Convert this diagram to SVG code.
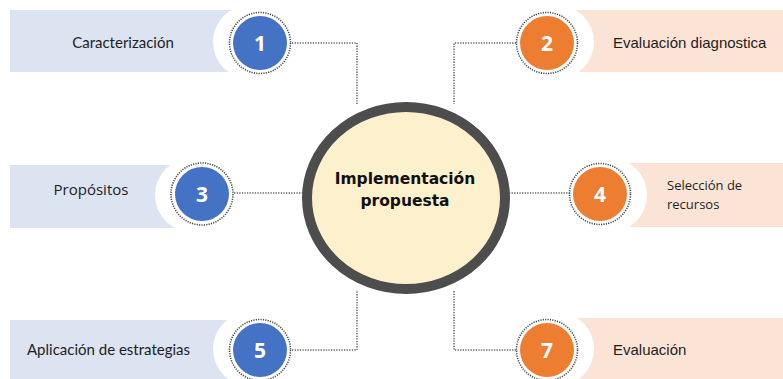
<svg xmlns="http://www.w3.org/2000/svg" width="783" height="379" viewBox="0 0 783 379">
<style>
.barL{fill:#DCE3F1}
.barR{fill:#FBE4D6}
.halo{fill:#FFFFFF}
.ring{fill:none;stroke:#4a4a4a;stroke-width:1.6;stroke-dasharray:1.2 1.2}
.blue{fill:#4472C4}
.orange{fill:#ED7D31}
.num{font-family:"Open Sans","Liberation Sans",sans-serif;font-weight:bold;font-size:21px;fill:#FFFFFF;text-anchor:middle}
.lbl{font-family:Lato,"Liberation Sans",sans-serif;font-size:15px;fill:#1e1e1e}
.lblR{font-family:"Liberation Sans",Arial,sans-serif;font-size:15px;fill:#1e1e1e}
.lblG{font-family:"Open Sans","Liberation Sans",sans-serif;font-size:13px;fill:#1e1e1e}
.conn{fill:none;stroke:#666666;stroke-width:1.5;stroke-dasharray:1.3 1.3}
.center{font-family:"DejaVu Sans","Liberation Sans",sans-serif;font-weight:bold;font-size:15.5px;fill:#111111;text-anchor:middle}
</style>
<rect width="783" height="379" fill="#FFFFFF"/>
<g id="connectors">
<path class="conn" d="M292 43 H357 V104"/>
<path class="conn" d="M516 43 H454 V104"/>
<path class="conn" d="M234 193 H303"/>
<path class="conn" d="M509 193 H570"/>
<path class="conn" d="M292 350 H357 V290"/>
<path class="conn" d="M516 350 H454 V290"/>
</g>
<g id="center">
<ellipse cx="406" cy="198" rx="99" ry="91" fill="#FDF0CD" stroke="#4d4d4d" stroke-width="10"/>
<text class="center" x="405" y="184">Implementación</text>
<text class="center" x="405" y="206">propuesta</text>
</g>
<g id="node1">
<rect class="barL" x="10" y="10" width="240" height="62"/>
<circle class="halo" cx="250" cy="42" r="37"/>
<circle class="blue" cx="260" cy="43" r="27"/>
<circle class="ring" cx="260" cy="43" r="30.5"/>
<text class="num" x="260" y="51">1</text>
<text class="lbl" x="123" y="48" text-anchor="middle">Caracterización</text>
</g>
<g id="node2">
<rect class="barR" x="550" y="10" width="233" height="62"/>
<circle class="halo" cx="557" cy="42" r="37"/>
<circle class="orange" cx="547" cy="43" r="27"/>
<circle class="ring" cx="547" cy="43" r="30.5"/>
<text class="num" x="547" y="51">2</text>
<text class="lblR" x="613" y="48">Evaluación diagnostica</text>
</g>
<g id="node3">
<rect class="barL" x="10" y="165" width="180" height="63"/>
<circle class="halo" cx="192" cy="195" r="37"/>
<circle class="blue" cx="202" cy="194" r="27"/>
<circle class="ring" cx="202" cy="194" r="31"/>
<text class="num" x="202" y="202">3</text>
<text class="lblG" x="91" y="195" text-anchor="middle" style="font-size:15px">Propósitos</text>
</g>
<g id="node4">
<rect class="barR" x="603" y="163" width="180" height="64"/>
<circle class="halo" cx="610" cy="195" r="37"/>
<circle class="orange" cx="600" cy="194" r="27"/>
<circle class="ring" cx="600" cy="194" r="30.5"/>
<text class="num" x="600" y="202">4</text>
<text class="lblG" x="667" y="190">Selección de</text>
<text class="lblG" x="667" y="209">recursos</text>
</g>
<g id="node5">
<rect class="barL" x="10" y="320" width="240" height="59"/>
<circle class="halo" cx="250" cy="349" r="37"/>
<circle class="blue" cx="260" cy="350" r="27"/>
<circle class="ring" cx="260" cy="350" r="30.5"/>
<text class="num" x="260" y="358">5</text>
<text class="lbl" x="27" y="355">Aplicación de estrategias</text>
</g>
<g id="node7">
<rect class="barR" x="550" y="318" width="233" height="61"/>
<circle class="halo" cx="557" cy="349" r="37"/>
<circle class="orange" cx="547" cy="350" r="27"/>
<circle class="ring" cx="547" cy="350" r="30.5"/>
<text class="num" x="547" y="358">7</text>
<text class="lblR" x="613" y="355">Evaluación</text>
</g>
</svg>
